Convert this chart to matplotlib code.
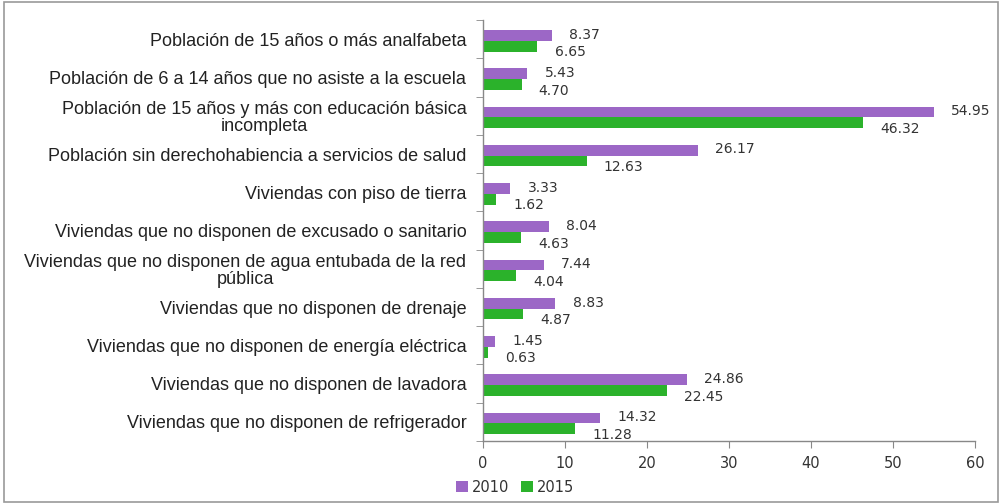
import matplotlib
matplotlib.use("Agg")
import matplotlib.pyplot as plt
import numpy as np

categories = [
    "Población de 15 años o más analfabeta",
    "Población de 6 a 14 años que no asiste a la escuela",
    "Población de 15 años y más con educación básica\nincompleta",
    "Población sin derechohabiencia a servicios de salud",
    "Viviendas con piso de tierra",
    "Viviendas que no disponen de excusado o sanitario",
    "Viviendas que no disponen de agua entubada de la red\npública",
    "Viviendas que no disponen de drenaje",
    "Viviendas que no disponen de energía eléctrica",
    "Viviendas que no disponen de lavadora",
    "Viviendas que no disponen de refrigerador",
]
values_2010 = [8.37, 5.43, 54.95, 26.17, 3.33, 8.04, 7.44, 8.83, 1.45, 24.86, 14.32]
values_2015 = [6.65, 4.70, 46.32, 12.63, 1.62, 4.63, 4.04, 4.87, 0.63, 22.45, 11.28]
series_names = ["2010", "2015"]
xticks = [0, 10, 20, 30, 40, 50, 60]

c2010 = "#9C67C6"
c2015 = "#2BB22B"
txt = "#333333"

fig = plt.figure(figsize=(10.02, 5.04), dpi=100)
ax = fig.add_axes([0.482, 0.125, 0.491, 0.835])

y = np.arange(len(categories))
h = 0.28
ax.barh(y - h / 2 + 0.04, values_2010, height=h, color=c2010, label=series_names[0])
ax.barh(y + h / 2 + 0.04, values_2015, height=h, color=c2015, label=series_names[1])

for yi, v in zip(y, values_2010):
    ax.text(v + 2.1, yi - h / 2 + 0.02, f"{v:.2f}", va="center", ha="left",
            fontsize=10, color=txt, family="DejaVu Sans")
for yi, v in zip(y, values_2015):
    ax.text(v + 2.1, yi + h / 2 + 0.2, f"{v:.2f}", va="center", ha="left",
            fontsize=10, color=txt, family="DejaVu Sans")

ax.set_xlim(0, 60)
ax.set_ylim(len(categories) - 0.5, -0.5)
ax.set_xticks(xticks)
ax.set_xticklabels([str(t) for t in xticks], fontsize=10.5, color=txt, family="DejaVu Sans")
ax.set_yticks(y)
ax.set_yticklabels(categories, fontsize=13, color="#222222", family="Liberation Sans",
                   multialignment="center", linespacing=1.0)
ax.tick_params(axis="y", length=0, pad=12)
ax.set_yticks(np.arange(-0.5, len(categories) + 0.5, 1), minor=True)
ax.tick_params(axis="y", which="minor", length=5, color="#888888")
ax.tick_params(axis="x", length=5, color="#888888", pad=6)

for s in ["top", "right"]:
    ax.spines[s].set_visible(False)
for s in ["left", "bottom"]:
    ax.spines[s].set_color("#888888")
    ax.spines[s].set_linewidth(1)

leg = fig.legend(loc="lower center", bbox_to_anchor=(0.514, -0.008), ncol=2, frameon=False,
                 handlelength=0.8, handleheight=0.8, columnspacing=0.8,
                 handletextpad=0.3, prop={"family": "DejaVu Sans", "size": 10.5})
for t in leg.get_texts():
    t.set_color(txt)

border = plt.Rectangle((0.004, 0.004), 0.992, 0.992, transform=fig.transFigure,
                       fill=False, edgecolor="#999999", linewidth=1.2)
fig.patches.append(border)

fig.savefig("out.png", dpi=100)
